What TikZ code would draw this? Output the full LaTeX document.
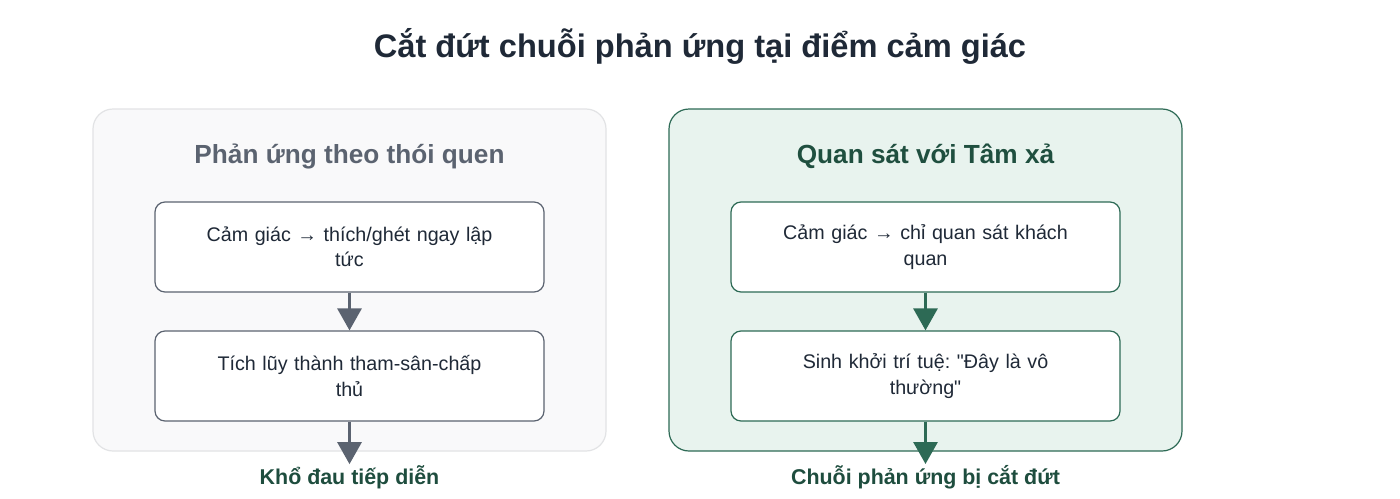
\documentclass[tikz,border=0pt]{standalone}
\usepackage{fontspec}
\setmainfont{Liberation Sans}[Ligatures=TeXOff]
\frenchspacing
\usetikzlibrary{arrows.meta}
\definecolor{titlec}{HTML}{1F2937}
\definecolor{grayc}{HTML}{5B6370}
\definecolor{leftfill}{HTML}{F9F9FA}
\definecolor{leftborder}{HTML}{E2E3E5}
\definecolor{greenfill}{HTML}{E8F3EE}
\definecolor{greenborder}{HTML}{2D6A55}
\definecolor{greentitle}{HTML}{1F4F3F}
\definecolor{labelc}{HTML}{1E4D3E}
\begin{document}
\begin{tikzpicture}[x=1pt,y=-1pt,
  panel/.style={draw, rounded corners=20pt, minimum width=513pt, minimum height=342pt, line width=1.2pt, inner sep=0pt},
  ptitle/.style={font=\fontsize{26.2}{30}\selectfont\bfseries},
  stepbox/.style={draw, fill=white, rounded corners=10pt, minimum width=389pt, minimum height=90pt, line width=1.2pt, align=center, text width=360pt, font=\fontsize{19.7}{25.5}\selectfont, text=titlec},
  flow/.style={line width=3pt, -{Triangle[width=24pt,length=22pt]}},
  endlabel/.style={font=\fontsize{21.4}{25}\selectfont\bfseries, text=labelc, inner sep=1pt}
]
\useasboundingbox (0,0) rectangle (1400,498);
\fill[white] (0,0) rectangle (1400,498);

\node[font=\fontsize{32.6}{38}\selectfont\bfseries, text=titlec] (title) at (700,46) {Cắt đứt chuỗi phản ứng tại điểm cảm giác};

% left panel
\node[panel, draw=leftborder, fill=leftfill] (lp) at (349.5,280) {};
\node[ptitle, text=grayc] (lt) at (349.5,156) {Phản ứng theo thói quen};
\node[stepbox, draw=grayc] (l1) at (349.5,247) {\frenchspacing Cảm giác → thích/ghét ngay lập\\tức};
\node[stepbox, draw=grayc] (l2) at (349.5,376) {\frenchspacing Tích lũy thành tham-sân-chấp\\thủ};
\node[endlabel] (ll) at (349.5,477) {Khổ đau tiếp diễn};
\draw[flow, grayc] (l1.south) -- (l2.north);
\draw[flow, grayc] (l2.south) -- (ll.north);

% right panel
\node[panel, draw=greenborder, fill=greenfill] (rp) at (925.5,280) {};
\node[ptitle, text=greentitle] (rt) at (925.5,156) {Quan sát với Tâm xả};
\node[stepbox, draw=greenborder] (r1) at (925.5,247) {\frenchspacing Cảm giác → chỉ quan sát khách\\quan};
\node[stepbox, draw=greenborder] (r2) at (925.5,376) {\frenchspacing Sinh khởi trí tuệ: "Đây là vô\\thường"};
\node[endlabel] (rl) at (925.5,477) {Chuỗi phản ứng bị cắt đứt};
\draw[flow, greenborder] (r1.south) -- (r2.north);
\draw[flow, greenborder] (r2.south) -- (rl.north);
\end{tikzpicture}
\end{document}
